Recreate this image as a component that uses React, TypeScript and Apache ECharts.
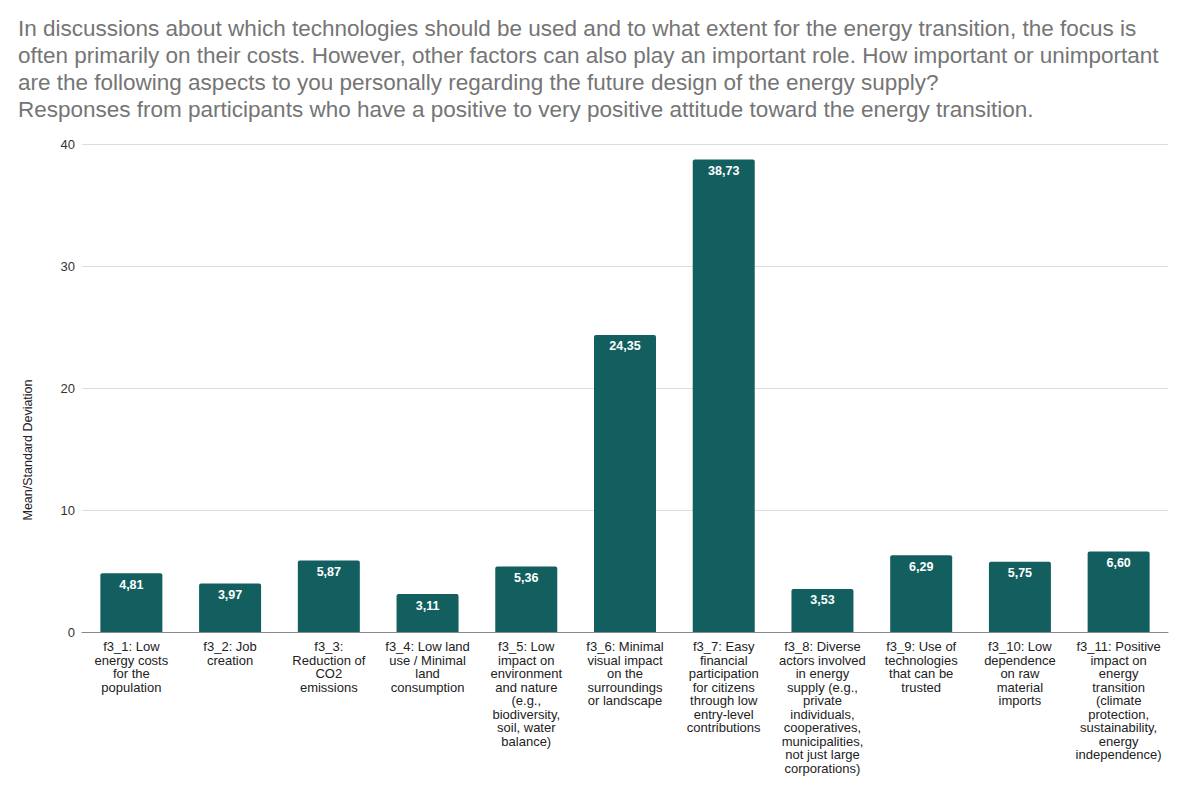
import React, { useEffect, useRef } from "react";
import * as echarts from "echarts";

const titleLines = [
  "In discussions about which technologies should be used and to what extent for the energy transition, the focus is",
  "often primarily on their costs. However, other factors can also play an important role. How important or unimportant",
  "are the following aspects to you personally regarding the future design of the energy supply?",
  "Responses from participants who have a positive to very positive attitude toward the energy transition.",
];

const categories = [
  "f3_1: Low\nenergy costs\nfor the\npopulation",
  "f3_2: Job\ncreation",
  "f3_3:\nReduction of\nCO2\nemissions",
  "f3_4: Low land\nuse / Minimal\nland\nconsumption",
  "f3_5: Low\nimpact on\nenvironment\nand nature\n(e.g.,\nbiodiversity,\nsoil, water\nbalance)",
  "f3_6: Minimal\nvisual impact\non the\nsurroundings\nor landscape",
  "f3_7: Easy\nfinancial\nparticipation\nfor citizens\nthrough low\nentry-level\ncontributions",
  "f3_8: Diverse\nactors involved\nin energy\nsupply (e.g.,\nprivate\nindividuals,\ncooperatives,\nmunicipalities,\nnot just large\ncorporations)",
  "f3_9: Use of\ntechnologies\nthat can be\ntrusted",
  "f3_10: Low\ndependence\non raw\nmaterial\nimports",
  "f3_11: Positive\nimpact on\nenergy\ntransition\n(climate\nprotection,\nsustainability,\nenergy\nindependence)",
];

const values = [4.81, 3.97, 5.87, 3.11, 5.36, 24.35, 38.73, 3.53, 6.29, 5.75, 6.6];

const yAxisTitle = "Mean/Standard Deviation";

const FONT = "Liberation Sans, Arial, sans-serif";

export default function App() {
  const ref = useRef<HTMLDivElement>(null);
  useEffect(() => {
    if (!ref.current) return;
    const chart = echarts.init(ref.current, null, { renderer: "svg" });
    chart.setOption({
      animation: false,
      backgroundColor: "#ffffff",
      textStyle: { fontFamily: FONT },
      graphic: [
        {
          type: "text",
          left: 10,
          top: 7,
          style: {
            text: titleLines.join("\n"),
            fontSize: 22.5,
            lineHeight: 27,
            fill: "#757575",
            fontFamily: FONT,
          },
        },
        {
          type: "text",
          x: 20,
          y: 442,
          rotation: Math.PI / 2,
          style: {
            text: yAxisTitle,
            fontSize: 12.5,
            fill: "#222222",
            align: "center",
            verticalAlign: "middle",
            fontFamily: FONT,
          },
        },
      ],
      grid: { left: 74, right: 24, top: 136, bottom: 154 },
      xAxis: {
        type: "category",
        data: categories,
        axisTick: { show: false },
        axisLine: { lineStyle: { color: "#888888", width: 1 } },
        axisLabel: {
          interval: 0,
          margin: 8,
          fontSize: 13,
          lineHeight: 13.5,
          color: "#222222",
          align: "center",
        },
      },
      yAxis: {
        type: "value",
        min: 0,
        max: 40,
        interval: 10,
        axisLine: { show: false },
        axisTick: { show: false },
        splitLine: { lineStyle: { color: "#dddddd", width: 1 } },
        axisLabel: { fontSize: 13, color: "#333333", margin: 7 },
      },
      series: [
        {
          type: "bar",
          data: values,
          barWidth: 62,
          itemStyle: { color: "#135f60", borderRadius: [2, 2, 0, 0] },
          label: {
            show: true,
            position: "insideTop",
            distance: 5,
            color: "#ffffff",
            fontSize: 12.5,
            fontWeight: "bold",
            formatter: (p: any) => Number(p.value).toFixed(2).replace(".", ","),
          },
        },
      ],
    });
    return () => chart.dispose();
  }, []);
  return <div ref={ref} style={{ width: 1184, height: 778 }} />;
}
